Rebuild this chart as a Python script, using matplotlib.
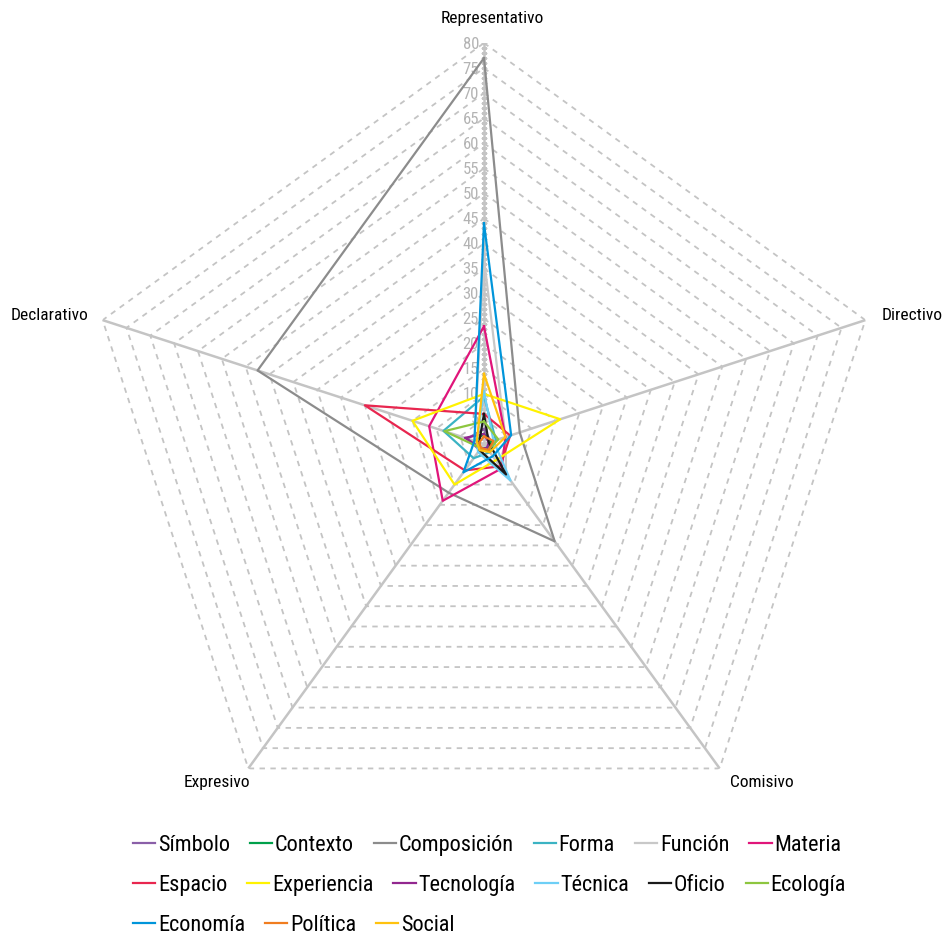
import numpy as np
import matplotlib
matplotlib.use("Agg")
import matplotlib.pyplot as plt
from matplotlib.lines import Line2D
from matplotlib.transforms import offset_copy

plt.rcParams['font.family'] = ['Roboto Condensed', 'DejaVu Sans']
plt.rcParams['font.stretch'] = 'condensed'

# ejes del radar (en sentido horario desde arriba)
ejes = ['Representativo', 'Directivo', 'Comisivo', 'Expresivo', 'Declarativo']

# valores por serie: Representativo, Directivo, Comisivo, Expresivo, Declarativo
series = ['Símbolo', 'Contexto', 'Composición', 'Forma', 'Función', 'Materia',
          'Espacio', 'Experiencia', 'Tecnología', 'Técnica', 'Oficio', 'Ecología',
          'Economía', 'Política', 'Social']
simbolo     = [3, 1.5, 1.5, 1.5, 3.5]
contexto    = [2, 1.5, 1, 1, 2]
composicion = [77, 7.5, 24, 12, 47.5]
forma       = [9.5, 2.5, 2, 3.5, 8.5]
funcion     = [37, 4.5, 7.5, 1.5, 2]
materia     = [23.5, 4.5, 6, 14, 11.5]
espacio     = [6, 5.5, 5.5, 6.5, 25]
experiencia = [10, 16, 4, 10, 15]
tecnologia  = [2, 1, 1, 1, 4]
tecnica     = [10.5, 2, 9, 2, 1.5]
oficio      = [6, 1, 7.5, 1.5, 1]
ecologia    = [4.5, 3, 1.5, 1, 8.3]
economia    = [44, 5.7, 3, 7, 2]
politica    = [1.5, 2, 1.5, 1, 1]
social      = [14, 4.5, 2, 1.5, 1.5]

valores = [simbolo, contexto, composicion, forma, funcion, materia, espacio,
           experiencia, tecnologia, tecnica, oficio, ecologia, economia,
           politica, social]
colores = ['#8a5fa8', '#00a04a', '#8c8c8c', '#3bb3c3', '#c8c8c8', '#e0157a',
           '#e8264f', '#fff200', '#92278f', '#6dcff6', '#1a1a1a', '#8dc63f',
           '#0095da', '#f07d1f', '#ffc20e']

ticks = list(range(5, 85, 5))
rmax = 80

fig = plt.figure(figsize=(9.45, 9.37), dpi=100)
ax = fig.add_axes([0.0878, 0.0971, 0.8487, 0.8559], projection='polar')
ax.set_theta_offset(np.pi / 2)
ax.set_theta_direction(-1)
ax.set_ylim(0, rmax)
ax.grid(False)
ax.spines['polar'].set_visible(False)
ax.set_xticks([])
ax.set_yticks([])
ax.patch.set_visible(False)

ang = np.linspace(0, 2 * np.pi, len(ejes), endpoint=False)
ang_c = np.append(ang, ang[0])

# rejilla poligonal punteada
for r in ticks:
    ax.plot(ang_c, [r] * len(ang_c), color='#c4c4c4', lw=1.3,
            ls=(0, (3, 3)), zorder=1)
# radios
for a in ang:
    ax.plot([a, a], [0, rmax], color='#c4c4c4', lw=1.8, zorder=1)
# marcas menores sobre el eje Representativo
r_min = np.arange(0, rmax + 1, 1)
ax.plot(np.zeros_like(r_min), r_min, ls='none', marker='_', ms=5,
        mew=0.8, color='#c4c4c4', zorder=1)

# etiquetas numericas
trans = offset_copy(ax.transData, fig=fig, x=-5, y=0, units='dots')
for r in ticks:
    ax.text(0, r, str(r), transform=trans, ha='right', va='center',
            fontsize=12, color='#b3b3b3', zorder=2)

# series
handles = []
for nombre, v, c in zip(series, valores, colores):
    v_c = v + v[:1]
    ax.plot(ang_c, v_c, color=c, lw=1.6, zorder=3)
    handles.append(Line2D([], [], color=c, lw=1.6, label=nombre))

# etiquetas de los ejes
fs_eje = 12.5
fig.text(492 / 945, 1 - 18 / 937, ejes[0], ha='center', va='center', fontsize=fs_eje)
fig.text(882 / 945, 1 - 316 / 937, ejes[1], ha='left', va='center', fontsize=fs_eje)
fig.text(730 / 945, 1 - 783 / 937, ejes[2], ha='left', va='center', fontsize=fs_eje)
fig.text(250 / 945, 1 - 783 / 937, ejes[3], ha='right', va='center', fontsize=fs_eje)
fig.text(88 / 945, 1 - 316 / 937, ejes[4], ha='right', va='center', fontsize=fs_eje)

# leyenda en tres filas
filas = [handles[0:6], handles[6:12], handles[12:15]]
ys = [846, 886, 926]
for fila, y in zip(filas, ys):
    fig.legend(handles=fila, loc='center left',
               bbox_to_anchor=(133 / 945, 1 - y / 937), ncol=len(fila),
               frameon=False, fontsize=16, handlelength=1.0,
               handletextpad=0.12, columnspacing=0.9, borderaxespad=0,
               borderpad=0)

fig.savefig('out.png', dpi=100)
